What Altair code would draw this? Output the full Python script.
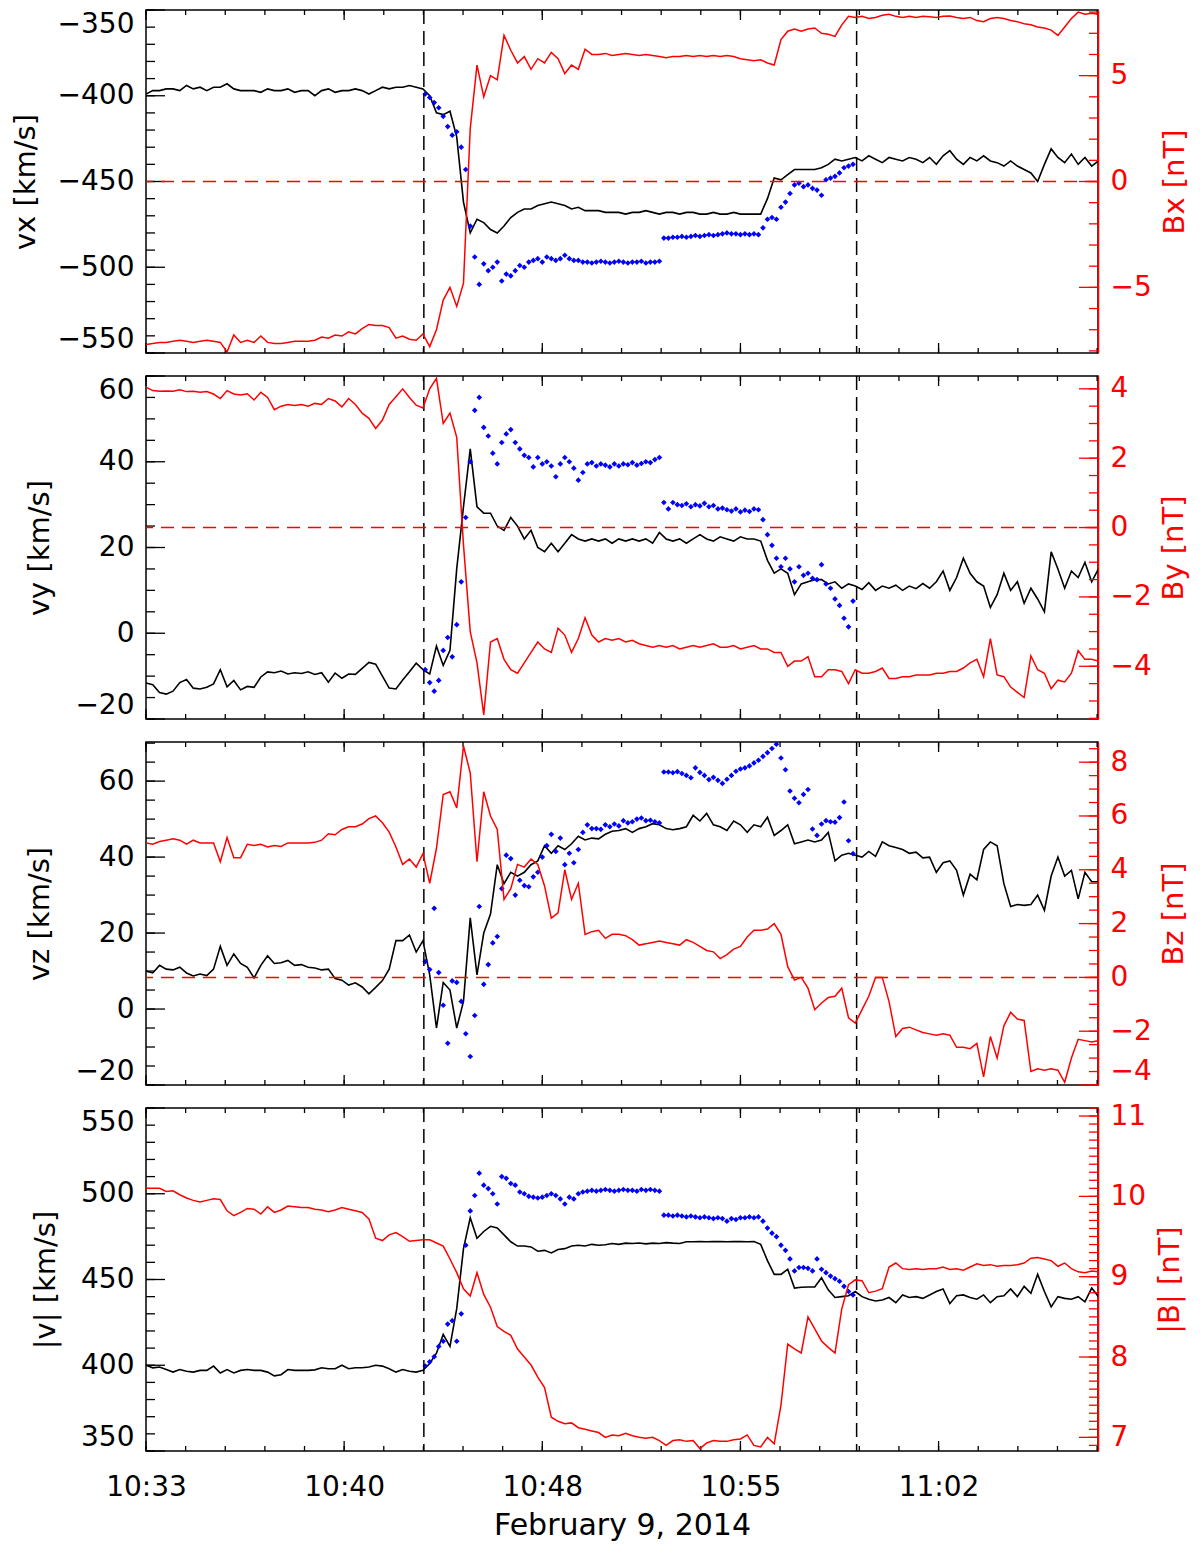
import pandas as pd
import altair as alt

# ---------------- time base (seconds after midnight, UT) ----------------
T0 = 38000            # 10:33:20, left edge of the plots
STEP = 15             # sampling of the black / red traces [s]
BLUE_START = 620      # blue points start (s after T0)
BLUE_STEP = 10
SPAN = 2114           # plotted time span [s]
boundary_times = [617, 1578]           # vertical dashed lines (s after T0)
x_major = [0, 440, 880, 1320, 1760]    # labelled ticks 10:33 ... 11:02
x_minor_step = 88

# ---------------- panel 1 : vx / Bx ----------------
vx = [-399, -397, -397, -396, -396, -397, -394, -396, -395, -397, -395, -395, -393, -396, -397, -397, -397, -398, -396, -397,
      -397, -396, -398, -397, -397, -400, -397, -396, -398, -397, -397, -396, -397, -399, -397, -395, -396, -395, -395, -394, -395,
      -396, -400, -410, -411, -409, -424, -462, -480, -472, -474, -478, -480, -476, -471, -468, -466, -466, -464, -463, -462,
      -463, -464, -466, -465, -467, -467, -467, -468, -468,
      -468, -469, -468, -468, -467, -468, -469, -468, -468, -469, -468, -468, -469, -469, -468, -469, -469, -468, -469, -469, -469,
      -469, -460, -448, -449, -446, -443, -443, -443, -443,
      -442, -440, -437, -438, -437, -436, -438, -435, -437, -439, -436, -437, -438, -436, -437, -439, -436, -440, -435, -432,
      -437, -440, -436, -438, -435, -438, -439, -441, -438, -441, -443, -445, -450, -440, -431, -436, -439, -434, -440, -436, -441, -438]
bx = [-7.7, -7.65, -7.6, -7.6, -7.55, -7.5, -7.55, -7.6, -7.55, -7.5, -7.55, -7.6, -8.05, -7.25, -7.6, -7.5, -7.6, -7.3, -7.6, -7.65,
      -7.65, -7.6, -7.55, -7.55, -7.55, -7.5, -7.35, -7.4, -7.25, -7.3, -7.1, -7.2, -6.95, -6.75, -6.8, -6.8, -6.9, -7.4, -7.3, -7.45, -7.5,
      -7.2, -7.8, -7.0, -5.6, -5.0, -5.9, -4.8, 2.5, 5.5, 4.0, 5.0, 4.8, 6.9, 6.2, 5.6, 5.9, 5.3, 5.8, 5.6, 6.1,
      5.8, 5.1, 5.5, 5.3, 6.25, 6.0, 6.0, 6.05, 5.95,
      6.0, 6.05, 6.0, 5.95, 6.0, 5.95, 5.9, 5.85, 5.9, 5.9, 5.95, 5.9, 5.95, 5.9, 5.95, 5.9, 5.95, 5.9, 5.8, 5.75,
      5.7, 5.75, 5.6, 5.5, 6.7, 7.1, 7.2, 7.1, 7.2, 7.25,
      7.0, 6.95, 6.85, 7.4, 7.8, 7.75, 7.8, 7.7, 7.75, 7.85, 7.9, 7.8, 7.75, 7.8, 7.75, 7.8, 7.78, 7.75, 7.8, 7.82,
      7.75, 7.7, 7.75, 7.6, 7.55, 7.7, 7.75, 7.7, 7.6, 7.55, 7.45, 7.4, 7.3, 7.25, 7.15, 6.9, 7.3, 7.7, 8.0, 7.9, 7.95, 7.9]
vx_blue = [-399, -401, -404, -407, -412, -418, -423, -421, -430, -443, -476, -494, -510, -498, -502, -500, -497, -508, -504, -505,
           -502, -499, -500, -497, -496, -495, -497, -494, -495, -496, -495, -493, -495, -496, -496, -497,
           -497, -497.5, -497, -496.5, -497, -497.5, -497, -496.5, -497, -497.5, -497, -497, -496.5, -497.5, -497, -497, -496.5,
           -483, -483, -482.5, -482.5, -482, -482.5, -482, -481.5, -482, -481.5, -481, -481.5, -481, -480.5, -480, -480.5,
           -480.5, -481, -480.5, -481, -480.5, -481,
           -477, -472, -471, -472, -465, -462, -457, -452, -451, -453, -452, -454, -455, -458, -449, -448, -447, -445, -442, -441, -440]

# ---------------- panel 2 : vy / By ----------------
vy = [-11.6, -12, -13.8, -14.2, -13.5, -11.5, -10.8, -12.8, -13, -12.6, -11.8, -8.5, -12.5, -11, -13.2, -12.4, -12.6, -10.2, -9, -9.2,
      -8.8, -9.5, -9.2, -9.4, -9.0, -9.6, -9.2, -11.4, -9.3, -10.5, -9.5, -9.6, -8.2, -6.8, -7.2, -10, -12.8, -13, -10.9, -9, -7,
      -8.5, -9.5, -3, -7.5, -4, 15, 29.5, 43, 29.5, 28, 28, 25, 24, 27, 25, 22, 24, 20, 19, 21,
      19, 21, 23, 22, 21.5, 22, 21.5, 22, 21, 22,
      21.5, 22, 21.5, 22, 21, 23.5, 22, 21.5, 22, 21,
      22, 23, 22, 21.5, 22.5, 22, 21.5, 22.5, 22, 22,
      21.5, 17, 14, 15, 14, 9, 11.5, 12, 12.5,
      12.5, 11.5, 12, 10.5, 11.5, 11, 10.2, 11.8, 10, 11, 10.5, 11.2, 10, 11, 10.4, 11.6, 10.5, 12, 14.5, 10,
      13, 17.5, 14, 12, 11, 6, 9, 14, 10, 12, 7, 10.5, 8, 5, 19, 15, 10.5, 14.5, 13, 16.5, 12, 15]
by = [4.05, 3.95, 3.93, 3.94, 3.93, 3.97, 3.92, 3.93, 3.9, 3.92, 3.85, 3.72, 3.95, 3.85, 3.82, 3.86, 3.68, 3.9, 3.75, 3.4,
      3.5, 3.55, 3.52, 3.55, 3.5, 3.58, 3.55, 3.72, 3.65, 3.48, 3.72, 3.55, 3.3, 3.15, 2.86, 3.1, 3.55, 3.77, 4.0, 3.75, 3.53,
      3.45, 4.0, 4.3, 3.0, 3.3, 2.6, -0.5, -3.0, -3.9, -5.4, -3.3, -3.2, -3.8, -4.1, -4.2, -3.9, -3.6, -3.3, -3.5, -3.6,
      -2.9, -3.1, -3.6, -3.2, -2.6, -3.1, -3.3, -3.2, -3.25, -3.2,
      -3.3, -3.25, -3.35, -3.4, -3.45, -3.4, -3.45, -3.4, -3.5, -3.45,
      -3.4, -3.45, -3.4, -3.35, -3.45, -3.45, -3.4, -3.5, -3.45, -3.4,
      -3.5, -3.5, -3.6, -3.6, -4.0, -3.85, -3.85, -3.72, -4.3,
      -4.3, -4.1, -4.1, -4.15, -4.5, -4.1, -4.2, -4.2, -4.15, -4.05, -4.35, -4.35, -4.3, -4.3, -4.25, -4.25, -4.25, -4.2, -4.2, -4.15,
      -4.15, -4.05, -3.9, -3.8, -4.3, -3.2, -4.25, -4.3, -4.6, -4.75, -4.9, -3.7, -4.1, -4.2, -4.65, -4.4, -4.45, -4.2, -3.55, -3.8, -3.8, -3.85]
vy_blue = [-8.5, -11.5, -13.5, -11, -4, -1, -5.5, 2, 12, 27, 40, 52, 55, 48, 46, 42, 39.5, 44.5, 46.5, 47.5,
           44.5, 43, 41.5, 41, 38.8, 41, 39.5, 40, 39, 36.5, 39.5, 41, 40, 38.5, 35.7, 37.5, 39.5, 39.8, 39, 39.5,
           39.2, 38.8, 39.5, 39, 39.5, 39.3, 39.8, 39.2, 39.6, 40, 39.8, 40.5, 41,
           30.5, 29, 30.5, 30, 29.8, 30.2, 29.5, 30, 29.7, 30.3,
           29.5, 29.8, 29, 29.2, 28.8, 28.5, 29, 28.3, 28.7, 28.4,
           29, 28.8, 26.5, 23, 20.5, 17.5, 15.5, 17.5, 15, 12,
           15.5, 13.5, 14, 12.8, 12.5, 16, 11.5, 10.5, 8, 6.5,
           3.5, 1.5, 7.5]

# ---------------- panel 3 : vz / Bz ----------------
vz = [10, 9.5, 11.5, 10.5, 10.3, 11, 9.5, 8.7, 9.2, 8.8, 10.5, 16.5, 11.5, 14.5, 12, 11, 8.2, 11.5, 14, 12,
      12.2, 12.8, 11.5, 11.7, 11, 10.8, 10.3, 10.5, 8, 7.6, 6.3, 6.9, 5.8, 4, 5.7, 7.5, 10.5, 18, 18, 19.5, 15,
      18, 9, -5, 7, 5, -5, 2, 24, 9, 20,
      25, 38, 33, 36, 35, 36, 38, 39, 43, 41,
      43, 42, 43.5, 45.5, 44.5, 45, 44.8, 46, 46.8, 47,
      47.5, 46.5, 47.5, 48, 48.8, 48.5, 47.5, 47.2, 47.5, 48,
      51, 49.5, 51.5, 48.5, 48, 47, 49.5, 48.5, 46.5, 48.5,
      48, 50.5, 45.7, 47, 48.5, 43.5, 44, 44.5, 44,
      44.5, 46.5, 39, 40.5, 41, 40.5, 40, 41.5, 40.2, 44, 43, 42.5, 42, 41, 41.3, 39.8, 40, 36, 38.5, 39,
      36.5, 30, 35.5, 34, 42, 44, 43, 33, 27, 27.5, 27.3, 27.5, 30, 26, 35, 40, 35, 36.5, 29, 36, 33.5, 33.5]
bz = [5.0, 4.95, 5.05, 5.1, 5.15, 5.1, 4.95, 5.1, 5.0, 5.0, 5.0, 4.3, 5.2, 4.45, 4.45, 4.95, 4.9, 4.95, 4.85, 4.9,
      4.87, 5.0, 5.0, 5.0, 5.0, 5.02, 5.1, 5.34, 5.3, 5.5, 5.6, 5.6, 5.7, 5.9, 6.0, 5.75, 5.4, 4.85, 4.2, 4.4, 4.1,
      4.6, 3.5, 4.8, 6.8, 6.9, 6.3, 8.6, 7.6, 4.3, 6.9, 6.0, 5.5, 2.9, 3.3, 4.2, 4.1, 4.4, 4.2, 3.4, 2.2,
      2.4, 4.0, 2.9, 3.5, 1.6, 1.7, 1.75, 1.45, 1.6, 1.6,
      1.55, 1.4, 1.2, 1.25, 1.3, 1.35, 1.3, 1.25, 1.2, 1.4,
      1.3, 1.15, 1.0, 0.95, 0.7, 0.85, 1.05, 1.15, 1.5, 1.75,
      1.75, 1.8, 2.0, 1.6, 0.4, -0.1, 0.0, -0.4, -1.2,
      -0.95, -0.75, -0.7, -0.4, -1.5, -1.7, -1.2, -0.7, 0.0, 0.0, -0.9, -2.2, -1.9, -1.85, -1.95, -2.05, -2.1, -2.15, -2.1, -2.15,
      -2.6, -2.6, -2.65, -2.45, -3.7, -2.2, -3.0, -1.8, -1.3, -1.55, -1.6, -3.5, -3.4, -3.45, -3.4, -3.45, -3.9, -3.0, -2.3, -2.35, -2.4, -2.35]
vz_blue = [12.5, 10.4, 26.5, 9.6, 1, -9, 7.4, 7, 2, -6.5, -12.5, -1.7, 27, 6.5, 11.7, 17.4, 19.1, 31.7, 40.5, 39.6,
           30, 33.9, 32.5, 32.2, 34.8, 36, 40, 43, 46, 41.5, 45, 38, 41, 38.5, 42, 46.5, 48.5, 47.5, 47.5, 47.3,
           48.5, 48, 48.7, 48.2, 49.6, 49, 49.3, 50, 50.3, 49.6, 49.7, 49.3, 49,
           62.4, 62.4, 62.2, 62.5, 62, 61.5, 60.9, 63.5, 62.3, 61.5,
           60.4, 61, 60.2, 59.4, 60.5, 61.5, 62.6, 63.2, 63.5, 64,
           64.8, 65.5, 66.5, 67.5, 68.6, 69.7, 66.1, 63, 57.4, 55.5,
           54.3, 56.5, 57.8, 47.4, 45.7, 48.7, 49.6, 49.3, 49.2, 50.4,
           54.5, 44.3, 40.9]

# ---------------- panel 4 : |v| / |B| ----------------
vmag = [400, 398.5, 399, 397.5, 396, 397.5, 396.5, 396, 397, 397, 399.5, 395.5, 397.5, 395.5, 397, 397.5, 397, 397, 396, 393.8,
        394.5, 397.5, 397, 397, 397, 397.3, 398.5, 398, 398, 400, 398, 398.5, 398.5, 399, 400, 399.5, 398, 396, 397.5, 396.5, 396,
        397, 401, 407, 418, 411, 433, 468, 486, 474, 478,
        481, 480, 476, 472, 469.5, 469.5, 469, 466.5, 467, 465.5,
        467.5, 468, 469.5, 470, 469.5, 470.5, 470, 470.3, 471, 470.5,
        471.2, 471, 471.3, 470.8, 471.2, 471, 471.5, 471.2, 471, 472,
        472, 472.1, 472, 472.2, 472.1, 472, 472.1, 472.2, 472, 472.1,
        470.5, 461, 453, 453, 456, 445, 445.5, 445.6, 445.6,
        451, 444, 439.5, 440, 440.5, 443, 440, 438.5, 437.5, 438, 439.5, 436.5, 441, 439.5, 440, 439, 441, 443, 444.5, 436,
        440.5, 441, 439.5, 438.5, 441, 436.5, 440, 440.5, 444.5, 440, 446, 442, 453, 443, 434, 440, 439, 438.5, 440, 437, 445, 440]
bmag = [10.1, 10.1, 10.1, 10.06, 10.07, 10.02, 9.98, 9.95, 9.93, 9.95, 9.97, 9.96, 9.82, 9.76, 9.8, 9.85, 9.84, 9.78, 9.87, 9.8,
        9.83, 9.88, 9.87, 9.86, 9.86, 9.84, 9.83, 9.81, 9.83, 9.86, 9.84, 9.82, 9.8, 9.72, 9.48, 9.45, 9.52, 9.55, 9.5, 9.44, 9.45,
        9.46, 9.46, 9.42, 9.38, 9.22, 9.05, 8.85, 8.76, 9.05, 8.78,
        8.62, 8.38, 8.32, 8.27, 8.1, 8.0, 7.9, 7.75, 7.62, 7.25,
        7.2, 7.17, 7.18, 7.12, 7.1, 7.08, 7.06, 7.0, 7.03, 7.02,
        7.05, 7.02, 7.0, 6.99, 7.0, 6.96, 6.9, 6.96, 6.97, 6.95,
        6.96, 6.86, 6.93, 6.96, 6.95, 6.95, 6.97, 6.98, 7.03, 6.9,
        6.88, 7.0, 6.92, 7.4, 8.16, 8.1, 8.05, 8.5, 8.35,
        8.2, 8.12, 8.05, 8.6, 8.9, 8.96, 8.95, 8.8, 8.82, 8.85, 9.12, 9.17, 9.1, 9.09, 9.1, 9.09, 9.1, 9.1, 9.12, 9.09,
        9.1, 9.08, 9.12, 9.16, 9.14, 9.15, 9.13, 9.14, 9.14, 9.15, 9.17, 9.23, 9.24, 9.22, 9.2, 9.13, 9.17, 9.1, 9.06, 9.05, 9.07, 9.06]
vmag_blue = [399.5, 402, 405, 411, 414, 424, 426, 414, 430, 470, 490, 499, 512, 505, 503, 500, 494, 510, 509, 506,
             505, 501, 500, 498.5, 498, 497.5, 498, 499, 500, 499, 497, 494, 498, 497, 500, 501, 501.5, 502, 501.5, 502,
             502.5, 502, 501.5, 502, 502.5, 502, 502, 501.5, 502.5, 502, 502.5, 502, 501.5,
             487.5, 487.5, 487, 487.5, 487, 486.5, 487, 486.5, 486, 486.5,
             486, 485.5, 486, 485.5, 484, 485.5, 485, 486, 486, 486.5,
             486, 486.5, 484, 480, 477, 475, 470, 467, 462, 455,
             457, 457, 456.5, 455, 462, 456, 454, 452, 450.5, 449,
             446, 443, 441]

panels_spec = [
    dict(black=vx, red=bx, blue=vx_blue, ldom=[-550, -350], rdom=[-8.1, 8.1],
         lmaj=(-550, -350, 50), lmin=(-550, -350, 10), rmaj=(-5, 5, 5), rmin=(-8, 8, 1),
         ltitle="vx [km/s]", rtitle="Bx [nT]", ltx=-121, rtx=76, zero=True),
    dict(black=vy, red=by, blue=vy_blue, ldom=[-20, 60], rdom=[-5.52, 4.37],
         lmaj=(-20, 60, 20), lmin=(-20, 60, 5), rmaj=(-4, 4, 2), rmin=(-5.5, 4, 0.5),
         ltitle="vy [km/s]", rtitle="By [nT]", ltx=-107, rtx=75, zero=True),
    dict(black=vz, red=bz, blue=vz_blue, ldom=[-20, 70.3], rdom=[-4, 8.75],
         lmaj=(-20, 60, 20), lmin=(-20, 70, 5), rmaj=(-4, 8, 2), rmin=(-4, 8.5, 0.5),
         ltitle="vz [km/s]", rtitle="Bz [nT]", ltx=-107, rtx=75, zero=True),
    dict(black=vmag, red=bmag, blue=vmag_blue, ldom=[350, 550], rdom=[6.83, 11.1],
         lmaj=(350, 550, 50), lmin=(350, 550, 10), rmaj=(7, 11, 1), rmin=(6.9, 11.1, 0.1),
         ltitle="|v| [km/s]", rtitle="|B| [nT]", ltx=-101, rtx=71, zero=False),
]

FONT = "DejaVu Sans"
RED = "#ff0000"
BLUE = "#0000ff"
W, H = 952, 343
YT_MAJ, YT_MIN = 19, 9     # y tick lengths (inward)
XT_MAJ, XT_MIN = 10, 5     # x tick lengths (inward)


def frange(lo, hi, step):
    n = int(round((hi - lo) / step))
    return [round(lo + step * k, 6) for k in range(n + 1)]


def series_df(values, start, step):
    return pd.DataFrame({"t": [T0 + start + step * i for i in range(len(values))], "v": values})


def make_panel(p, bottom):
    xs = alt.Scale(domain=[T0, T0 + SPAN], nice=False, zero=False)
    ls = alt.Scale(domain=p["ldom"], nice=False, zero=False)
    rs = alt.Scale(domain=p["rdom"], nice=False, zero=False)

    if bottom:
        xaxis = alt.Axis(values=[T0 + v for v in x_major],
                         labelExpr="utcFormat(datum.value * 1000, '%H:%M')",
                         title="February 9, 2014", ticks=False, tickSize=0, domain=False,
                         labelFlush=False, labelOverlap=False, labelPadding=22, titlePadding=9,
                         labelFontSize=28, titleFontSize=30)
    else:
        xaxis = None

    lax = alt.Axis(values=frange(*p["lmaj"]), format="d", ticks=False, tickSize=0, domain=False,
                   labelPadding=12, labelFlush=True, labelOverlap=False, labelFontSize=28,
                   title=p["ltitle"], titleX=p["ltx"], titleY=H / 2, titleAngle=270,
                   titleBaseline="middle", titleFontSize=29)
    rax = alt.Axis(orient="right", values=frange(*p["rmaj"]), format="d", ticks=False, tickSize=0,
                   domain=True, domainColor=RED, domainWidth=1.5,
                   labelColor=RED, titleColor=RED, labelPadding=12, labelFlush=True,
                   labelOverlap=False, labelFontSize=28,
                   title=p["rtitle"], titleX=p["rtx"], titleY=H / 2, titleAngle=270,
                   titleBaseline="middle", titleFontSize=29)

    # every layer carries the same axis definition so that the merged axis survives
    def X():
        return alt.X("t:Q", scale=xs, axis=xaxis)

    def YL():
        return alt.Y("v:Q", scale=ls, axis=lax)

    def YR():
        return alt.Y("v:Q", scale=rs, axis=rax)

    black = alt.Chart(series_df(p["black"], 0, STEP)).mark_line(
        color="black", strokeWidth=1.6, clip=True).encode(x=X(), y=YL())
    blue = alt.Chart(series_df(p["blue"], BLUE_START, BLUE_STEP)).mark_point(
        shape="diamond", filled=True, color=BLUE, size=32, opacity=1, clip=True).encode(x=X(), y=YL())
    vlines = alt.Chart(pd.DataFrame({"t": [T0 + b for b in boundary_times]})).mark_rule(
        color="black", strokeWidth=1.5, strokeDash=[14, 7]).encode(x=X())

    def ytick(vals, Y, x0, x1, color):
        return alt.Chart(pd.DataFrame({"v": vals})).mark_rule(color=color, strokeWidth=1.3).encode(
            y=Y(), x=alt.value(x0), x2=alt.value(x1))

    def xtick(vals, y0, y1):
        return alt.Chart(pd.DataFrame({"t": [T0 + v for v in vals]})).mark_rule(
            color="black", strokeWidth=1.3).encode(x=X(), y=alt.value(y0), y2=alt.value(y1))

    xmaj = x_major
    xmin = list(range(0, SPAN, x_minor_step))
    left = alt.layer(
        black, blue, vlines,
        ytick(frange(*p["lmaj"]), YL, 0, YT_MAJ, "black"),
        ytick(frange(*p["lmin"]), YL, 0, YT_MIN, "black"),
        xtick(xmaj, H, H - XT_MAJ), xtick(xmin, H, H - XT_MIN),
        xtick(xmaj, 0, XT_MAJ), xtick(xmin, 0, XT_MIN),
    )

    red = alt.Chart(series_df(p["red"], 0, STEP)).mark_line(
        color=RED, strokeWidth=1.5, clip=True).encode(x=X(), y=YR())
    right_layers = [red]
    if p["zero"]:
        right_layers.append(alt.Chart(pd.DataFrame({"v": [0]})).mark_rule(
            color=RED, strokeWidth=1.5, strokeDash=[13, 8]).encode(y=YR()))
    right_layers.append(ytick(frange(*p["rmaj"]), YR, W - YT_MAJ, W, RED))
    right_layers.append(ytick(frange(*p["rmin"]), YR, W - YT_MIN, W, RED))
    right = alt.layer(*right_layers)

    return alt.layer(left, right).resolve_scale(y="independent").properties(width=W, height=H)


panels = [make_panel(p, i == len(panels_spec) - 1) for i, p in enumerate(panels_spec)]

chart = alt.vconcat(*panels, spacing=23, bounds="flush").properties(
    padding={"left": 2, "right": 2, "top": 0, "bottom": 2},
    background="white",
).configure_view(
    stroke="black", strokeWidth=1.5
).configure_axis(
    labelFont=FONT, titleFont=FONT, labelColor="black", titleColor="black",
    grid=False, titleFontWeight="normal"
)

chart.save("out.html", embed_options={"renderer": "svg", "actions": False})
